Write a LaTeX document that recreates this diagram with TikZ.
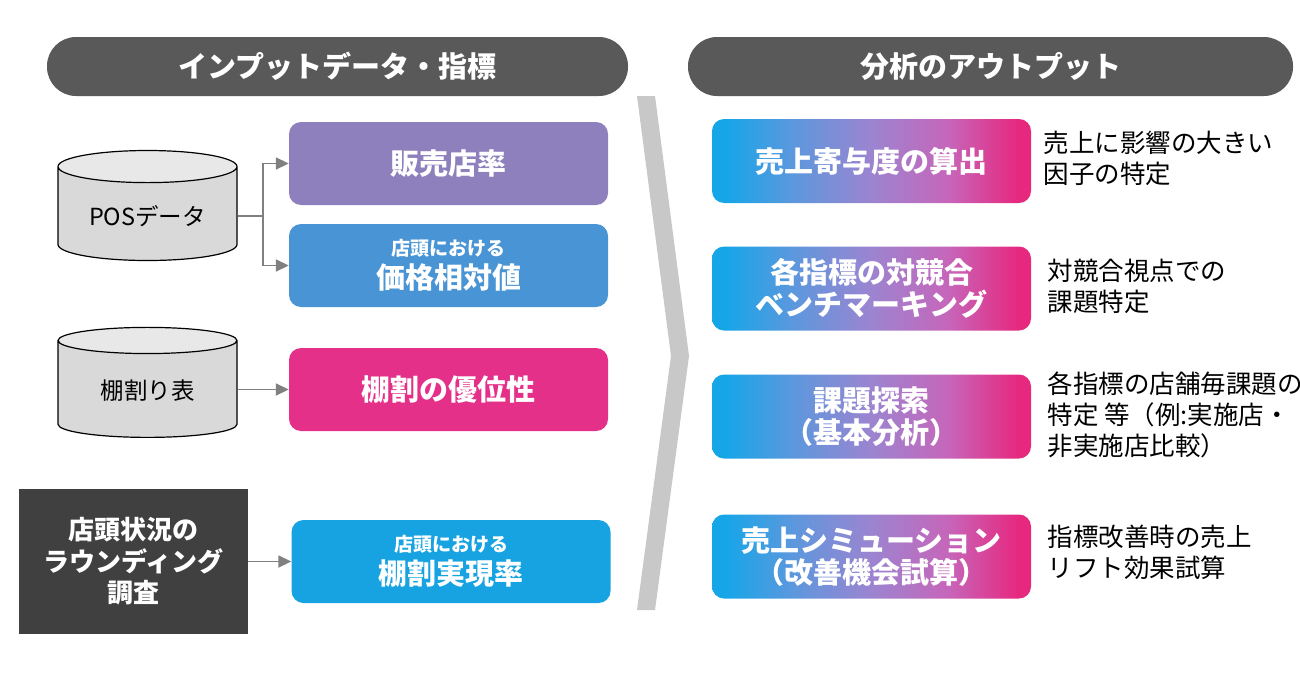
\documentclass[tikz,border=0pt]{standalone}
\usepackage{fontspec}
\setmainfont{Noto Sans CJK JP}
\usetikzlibrary{shapes.geometric,arrows.meta}
\definecolor{head}{HTML}{595959}
\definecolor{chev}{HTML}{C8C8C8}
\definecolor{link}{HTML}{808080}
\definecolor{boxpurple}{HTML}{8E80BC}
\definecolor{boxblue}{HTML}{4894D4}
\definecolor{boxpink}{HTML}{E5308A}
\definecolor{boxsky}{HTML}{17A3E2}
\definecolor{survey}{HTML}{404040}
\definecolor{gradl}{HTML}{15A6E8}
\definecolor{gradq}{HTML}{5E97DD}
\definecolor{gradm}{HTML}{9C84D0}
\definecolor{gradt}{HTML}{C666BA}
\definecolor{gradr}{HTML}{E6287F}
\pgfdeclarehorizontalshading{outgrad}{100bp}{color(0bp)=(gradl); color(27bp)=(gradl); color(38bp)=(gradq); color(50bp)=(gradm); color(62bp)=(gradt); color(73bp)=(gradr); color(100bp)=(gradr)}
\begin{document}
\begin{tikzpicture}[x=1pt,y=-1pt,
  pill/.style={fill=head, rounded corners=29pt, minimum width=581pt, minimum height=59pt, text=white, font=\fontsize{29}{32}\selectfont\bfseries},
  inbox/.style={rounded corners=12pt, minimum width=319pt, minimum height=83pt, text=white, align=center, font=\fontsize{29}{33}\selectfont\bfseries},
  outbox/.style={rounded corners=12pt, minimum width=319pt, minimum height=84pt, shading=outgrad, text=white, align=center, font=\fontsize{29}{32}\selectfont\bfseries},
  db/.style={cylinder, shape border rotate=90, aspect=0.26, draw=black, line width=1.2pt, cylinder uses custom fill, cylinder body fill=black!15, cylinder end fill=black!9, minimum width=179pt, minimum height=110pt, font=\fontsize{23.5}{26}\selectfont},
  note/.style={anchor=west, align=left, font=\fontsize{25.5}{31}\selectfont},
  link/.style={draw=link, line width=1.8pt, -{Triangle[length=13pt,width=12pt]}}]
\def\small#1{{\fontsize{19}{24}\selectfont #1}}
\useasboundingbox (0,0) rectangle (1300,680);

\node[pill] (inhead) at (337.5,66.5) {インプットデータ・指標};
\node[pill, minimum width=605pt] (outhead) at (990.5,66.5) {分析のアウトプット};

\fill[chev] (637,96) -- (655,96) -- (689,356) -- (655,610) -- (637,610) -- (671,356) -- cycle;

% inputs
\node[db] (pos) at (147.5,216) {POSデータ};
\node[db] (tana) at (147.5,391) {棚割り表};
\node[fill=survey, minimum width=229pt, minimum height=145pt, text=white, align=center, font=\fontsize{26}{31.5}\selectfont\bfseries] (survey) at (133.5,561.5) {店頭状況の\\ラウンディング\\調査};

\node[inbox, fill=boxpurple] (hanbai) at (448.5,163.5) {販売店率};
\node[inbox, fill=boxblue] (kakaku) at (448.5,265.5) {\small{店頭における}\\価格相対値};
\node[inbox, fill=boxpink] (yui) at (448.5,389.5) {棚割の優位性};
\node[inbox, fill=boxsky] (jitsugen) at (451,561.5) {\small{店頭における}\\棚割実現率};

\draw[link] (pos.east) -- ++(25,0) |- (hanbai.west);
\draw[link] (pos.east) -- ++(25,0) |- (kakaku.west);
\draw[link] (tana.east |- yui.west) -- (yui.west);
\draw[link] (survey.east) -- (jitsugen.west);

% outputs
\node[outbox] (kiyo) at (871.5,161) {売上寄与度の算出};
\node[outbox] (bench) at (871.5,288.5) {各指標の対競合\\ベンチマーキング};
\node[outbox] (tansaku) at (871.5,416.5) {課題探索\\（基本分析）};
\node[outbox] (sim) at (871.5,556.5) {売上シミューション\\（改善機会試算）};

\node[note] (kiyonote) at (1040,158) {売上に影響の大きい\\因子の特定};
\node[note] (benchnote) at (1044,286) {対競合視点での\\課題特定};
\node[note] (tansakunote) at (1044,415) {各指標の店舗毎課題の\\特定 等（例:実施店・\\非実施店比較）};
\node[note] (simnote) at (1044,552) {指標改善時の売上\\リフト効果試算};
\end{tikzpicture}
\end{document}
